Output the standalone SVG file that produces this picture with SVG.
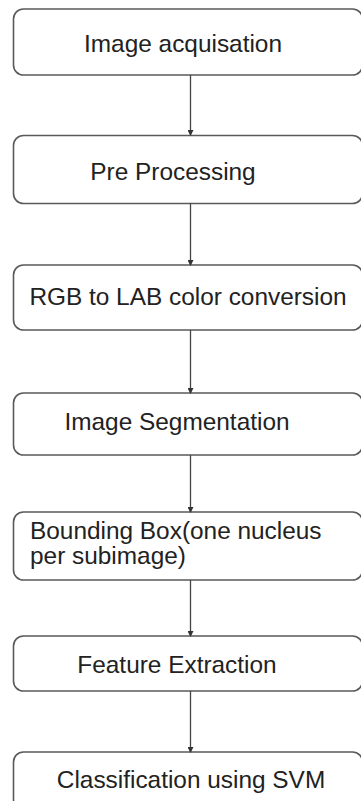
<svg xmlns="http://www.w3.org/2000/svg" width="361" height="801" viewBox="0 0 361 801">
<style>
.box{fill:#fff;stroke:#5a5a5a;stroke-width:1.6}
.t{font-family:"Liberation Sans",Arial,sans-serif;font-size:24.4px;fill:#222}
.c{stroke:#444;stroke-width:1.3;fill:none}
</style>
<defs>
<marker id="ah" markerWidth="6" markerHeight="6" refX="5" refY="3" orient="auto" markerUnits="userSpaceOnUse">
<path d="M0,0 L6,3 L0,6 Z" fill="#333"/>
</marker>
</defs>
<rect width="361" height="801" fill="#fff"/>
<g id="n1"><rect class="box" x="13.5" y="9" width="349" height="66" rx="10"/><text class="t" x="183" y="52" text-anchor="middle">Image acquisation</text></g>
<g id="n2"><rect class="box" x="13.5" y="135.5" width="349" height="68" rx="10"/><text class="t" x="173" y="180" text-anchor="middle">Pre Processing</text></g>
<g id="n3"><rect class="box" x="13.5" y="265" width="349" height="65" rx="10"/><text class="t" x="188" y="305" text-anchor="middle">RGB to LAB color conversion</text></g>
<g id="n4"><rect class="box" x="13.5" y="393" width="349" height="62" rx="10"/><text class="t" x="177" y="430" text-anchor="middle">Image Segmentation</text></g>
<g id="n5"><rect class="box" x="13.5" y="512" width="349" height="68" rx="10"/><text class="t" x="30" y="539">Bounding Box(one nucleus</text><text class="t" x="30" y="564">per subimage)</text></g>
<g id="n6"><rect class="box" x="13.5" y="636" width="349" height="55" rx="10"/><text class="t" x="177" y="673" text-anchor="middle">Feature Extraction</text></g>
<g id="n7"><rect class="box" x="13.5" y="752" width="349" height="70" rx="10"/><text class="t" x="191" y="788" text-anchor="middle">Classification using SVM</text></g>
<g id="connectors">
<line class="c" x1="190.5" y1="75" x2="190.5" y2="135" marker-end="url(#ah)"/>
<line class="c" x1="190.5" y1="203.5" x2="190.5" y2="265" marker-end="url(#ah)"/>
<line class="c" x1="190.5" y1="330" x2="190.5" y2="393" marker-end="url(#ah)"/>
<line class="c" x1="190.5" y1="455" x2="190.5" y2="512" marker-end="url(#ah)"/>
<line class="c" x1="190.5" y1="580" x2="190.5" y2="636" marker-end="url(#ah)"/>
<line class="c" x1="190.5" y1="691" x2="190.5" y2="752" marker-end="url(#ah)"/>
</g>
</svg>
